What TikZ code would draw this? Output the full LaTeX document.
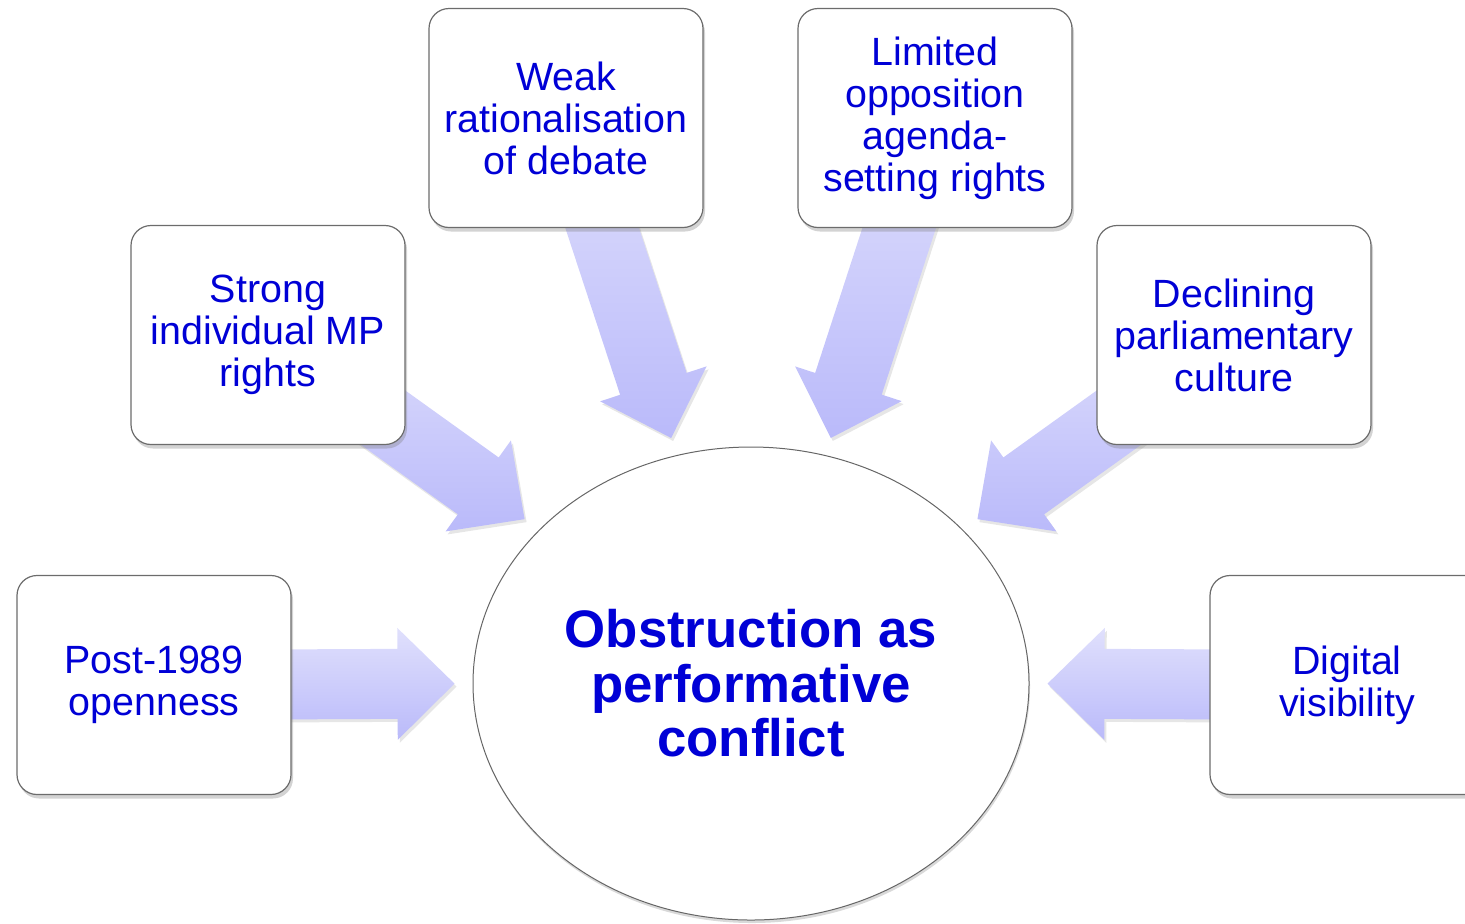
\documentclass[tikz,border=0pt]{standalone}
\usepackage{fontspec}
\setmainfont{Liberation Sans}
\usetikzlibrary{calc,shadows,shapes.geometric}
\definecolor{txtblue}{RGB}{0,0,214}
\definecolor{arrowtop}{RGB}{224,224,252}
\definecolor{arrowbot}{RGB}{186,186,250}
\pgfdeclarelayer{background}
\pgfsetlayers{background,main}

% fat block arrow from the centre of a box to a point by the hub
\newcommand{\fatarrow}[2]{%
  \coordinate (tip) at ($(hub.#2)!9pt!(#1)$);
  \coordinate (neck) at ($(tip)!28.5pt!(#1)$);
  \path[fat arrow] ($(#1)!17.5pt!90:(tip)$) -- ($(neck)!17.5pt!90:(tip)$)
    -- ($(neck)!28pt!90:(tip)$) -- (tip) -- ($(neck)!28pt!-90:(tip)$)
    -- ($(neck)!17.5pt!-90:(tip)$) -- ($(#1)!17.5pt!-90:(tip)$) -- cycle;
}

\begin{document}
\begin{tikzpicture}[x=0.5pt,y=-0.5pt,
    factor/.style={draw=gray!85!black, line width=0.6pt, fill=white,
      rounded corners=10pt, minimum width=137pt, minimum height=109.5pt,
      inner sep=0pt, align=center, text=txtblue,
      font=\fontsize{19.7}{21}\selectfont,
      drop shadow={shadow xshift=1pt, shadow yshift=-2pt, opacity=0.35}},
    hub/.style={ellipse, draw=gray!80!black, line width=0.5pt, fill=white,
      minimum width=278pt, minimum height=236.5pt, inner sep=0pt,
      align=center, text=txtblue,
      font=\bfseries\fontsize{26.4}{27.3}\selectfont,
      drop shadow={shadow xshift=0.5pt, shadow yshift=-1.5pt, opacity=0.3}},
    fat arrow/.style={top color=arrowtop, bottom color=arrowbot,
      drop shadow={shadow xshift=1pt, shadow yshift=-1.5pt, opacity=0.2}}]
  \useasboundingbox (0,0) rectangle (1465,923);

  % causes round the outside
  \node[factor] (open) at (154,685) {Post-1989\\openness};
  \node[factor] (strong) at (268,335) {Strong\\individual MP\\rights};
  \node[factor] (weak) at (566,118) {Weak\\rationalisation\\of debate};
  \node[factor] (limited) at (935,118) {Limited\\opposition\\agenda-\\setting rights};
  \node[factor] (declining) at (1234,335) {Declining\\parliamentary\\culture};
  \node[factor] (digital) at (1347,685) {Digital\\visibility};

  % the outcome in the middle
  \node[hub] (hub) at (751,683.5) {Obstruction as\\performative\\conflict};

  % arrows go under the boxes
  \begin{pgfonlayer}{background}
    \foreach \src/\ang in {open/180, strong/144, weak/108, limited/72, declining/36, digital/0}
      \fatarrow{\src}{\ang};
  \end{pgfonlayer}
\end{tikzpicture}
\end{document}
